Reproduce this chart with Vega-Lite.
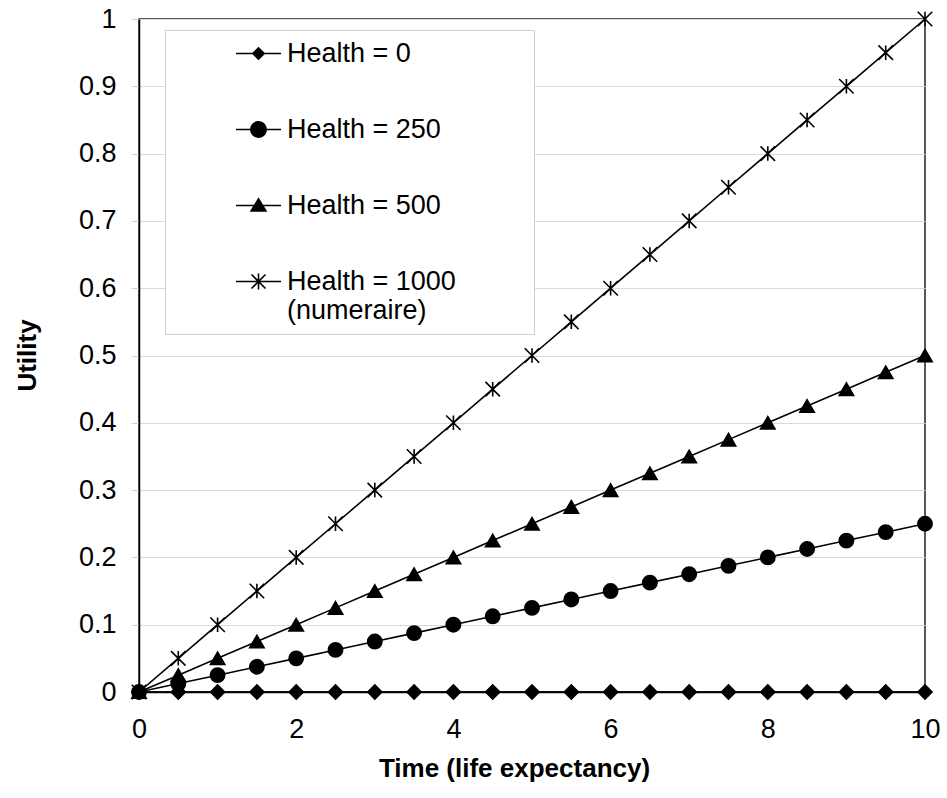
{
  "$schema": "https://vega.github.io/schema/vega-lite/v6.json",
  "width": 786,
  "height": 673,
  "autosize": "none",
  "padding": {"left": 139, "top": 19, "right": 22, "bottom": 106},
  "background": "white",
  "config": {
    "font": "Liberation Sans",
    "view": {"stroke": "#222", "strokeWidth": 1.5}
  },
  "data": {
    "values": [
      {"t": 0, "u": 0, "s": "Health = 0"}, {"t": 0.5, "u": 0, "s": "Health = 0"}, {"t": 1, "u": 0, "s": "Health = 0"}, {"t": 1.5, "u": 0, "s": "Health = 0"}, {"t": 2, "u": 0, "s": "Health = 0"}, {"t": 2.5, "u": 0, "s": "Health = 0"}, {"t": 3, "u": 0, "s": "Health = 0"}, {"t": 3.5, "u": 0, "s": "Health = 0"}, {"t": 4, "u": 0, "s": "Health = 0"}, {"t": 4.5, "u": 0, "s": "Health = 0"}, {"t": 5, "u": 0, "s": "Health = 0"}, {"t": 5.5, "u": 0, "s": "Health = 0"}, {"t": 6, "u": 0, "s": "Health = 0"}, {"t": 6.5, "u": 0, "s": "Health = 0"}, {"t": 7, "u": 0, "s": "Health = 0"}, {"t": 7.5, "u": 0, "s": "Health = 0"}, {"t": 8, "u": 0, "s": "Health = 0"}, {"t": 8.5, "u": 0, "s": "Health = 0"}, {"t": 9, "u": 0, "s": "Health = 0"}, {"t": 9.5, "u": 0, "s": "Health = 0"}, {"t": 10, "u": 0, "s": "Health = 0"},
      {"t": 0, "u": 0, "s": "Health = 250"}, {"t": 0.5, "u": 0.0125, "s": "Health = 250"}, {"t": 1, "u": 0.025, "s": "Health = 250"}, {"t": 1.5, "u": 0.0375, "s": "Health = 250"}, {"t": 2, "u": 0.05, "s": "Health = 250"}, {"t": 2.5, "u": 0.0625, "s": "Health = 250"}, {"t": 3, "u": 0.075, "s": "Health = 250"}, {"t": 3.5, "u": 0.0875, "s": "Health = 250"}, {"t": 4, "u": 0.1, "s": "Health = 250"}, {"t": 4.5, "u": 0.1125, "s": "Health = 250"}, {"t": 5, "u": 0.125, "s": "Health = 250"}, {"t": 5.5, "u": 0.1375, "s": "Health = 250"}, {"t": 6, "u": 0.15, "s": "Health = 250"}, {"t": 6.5, "u": 0.1625, "s": "Health = 250"}, {"t": 7, "u": 0.175, "s": "Health = 250"}, {"t": 7.5, "u": 0.1875, "s": "Health = 250"}, {"t": 8, "u": 0.2, "s": "Health = 250"}, {"t": 8.5, "u": 0.2125, "s": "Health = 250"}, {"t": 9, "u": 0.225, "s": "Health = 250"}, {"t": 9.5, "u": 0.2375, "s": "Health = 250"}, {"t": 10, "u": 0.25, "s": "Health = 250"},
      {"t": 0, "u": 0, "s": "Health = 500"}, {"t": 0.5, "u": 0.025, "s": "Health = 500"}, {"t": 1, "u": 0.05, "s": "Health = 500"}, {"t": 1.5, "u": 0.075, "s": "Health = 500"}, {"t": 2, "u": 0.1, "s": "Health = 500"}, {"t": 2.5, "u": 0.125, "s": "Health = 500"}, {"t": 3, "u": 0.15, "s": "Health = 500"}, {"t": 3.5, "u": 0.175, "s": "Health = 500"}, {"t": 4, "u": 0.2, "s": "Health = 500"}, {"t": 4.5, "u": 0.225, "s": "Health = 500"}, {"t": 5, "u": 0.25, "s": "Health = 500"}, {"t": 5.5, "u": 0.275, "s": "Health = 500"}, {"t": 6, "u": 0.3, "s": "Health = 500"}, {"t": 6.5, "u": 0.325, "s": "Health = 500"}, {"t": 7, "u": 0.35, "s": "Health = 500"}, {"t": 7.5, "u": 0.375, "s": "Health = 500"}, {"t": 8, "u": 0.4, "s": "Health = 500"}, {"t": 8.5, "u": 0.425, "s": "Health = 500"}, {"t": 9, "u": 0.45, "s": "Health = 500"}, {"t": 9.5, "u": 0.475, "s": "Health = 500"}, {"t": 10, "u": 0.5, "s": "Health = 500"},
      {"t": 0, "u": 0, "s": "Health = 1000"}, {"t": 0.5, "u": 0.05, "s": "Health = 1000"}, {"t": 1, "u": 0.1, "s": "Health = 1000"}, {"t": 1.5, "u": 0.15, "s": "Health = 1000"}, {"t": 2, "u": 0.2, "s": "Health = 1000"}, {"t": 2.5, "u": 0.25, "s": "Health = 1000"}, {"t": 3, "u": 0.3, "s": "Health = 1000"}, {"t": 3.5, "u": 0.35, "s": "Health = 1000"}, {"t": 4, "u": 0.4, "s": "Health = 1000"}, {"t": 4.5, "u": 0.45, "s": "Health = 1000"}, {"t": 5, "u": 0.5, "s": "Health = 1000"}, {"t": 5.5, "u": 0.55, "s": "Health = 1000"}, {"t": 6, "u": 0.6, "s": "Health = 1000"}, {"t": 6.5, "u": 0.65, "s": "Health = 1000"}, {"t": 7, "u": 0.7, "s": "Health = 1000"}, {"t": 7.5, "u": 0.75, "s": "Health = 1000"}, {"t": 8, "u": 0.8, "s": "Health = 1000"}, {"t": 8.5, "u": 0.85, "s": "Health = 1000"}, {"t": 9, "u": 0.9, "s": "Health = 1000"}, {"t": 9.5, "u": 0.95, "s": "Health = 1000"}, {"t": 10, "u": 1, "s": "Health = 1000"}
    ]
  },
  "encoding": {
    "x": {
      "field": "t", "type": "quantitative",
      "scale": {"domain": [0, 10], "nice": false, "zero": false},
      "axis": {
        "values": [0, 2, 4, 6, 8, 10], "grid": false, "ticks": false,
        "domainColor": "#000", "domainWidth": 1.5,
        "labelFontSize": 27, "labelColor": "#000", "labelPadding": 24, "labelFlush": false,
        "title": "Time (life expectancy)", "titleFontSize": 26, "titleFontWeight": "bold", "titleColor": "#000",
        "titleX": 375, "titleY": 84, "titleBaseline": "alphabetic", "titleAnchor": "middle"
      }
    },
    "y": {
      "field": "u", "type": "quantitative",
      "scale": {"domain": [0, 1], "nice": false},
      "axis": {
        "values": [0, 0.1, 0.2, 0.3, 0.4, 0.5, 0.6, 0.7, 0.8, 0.9, 1],
        "labelExpr": "datum.value == 0 ? '0' : datum.value == 1 ? '1' : format(datum.value, '.1f')",
        "grid": true, "gridColor": "#d9d9d9", "gridWidth": 1,
        "tickColor": "#d0d0d0", "tickSize": 8, "tickWidth": 1,
        "domainColor": "#000", "domainWidth": 1.5,
        "labelFontSize": 27, "labelColor": "#000", "labelPadding": 15, "labelFlush": false,
        "title": "Utility", "titleFontSize": 26, "titleFontWeight": "bold", "titleColor": "#000",
        "titleX": -112, "titleY": 336, "titleBaseline": "middle", "titleAngle": -90
      }
    }
  },
  "layer": [
    {
      "mark": {"type": "line", "color": "#000", "strokeWidth": 1.6},
      "encoding": {"detail": {"field": "s"}}
    },
    {
      "mark": {"type": "point", "filled": true, "color": "#000", "stroke": "#000", "strokeWidth": 1.6, "opacity": 1},
      "encoding": {
        "shape": {
          "field": "s", "type": "nominal",
          "scale": {
            "domain": ["Health = 0", "Health = 250", "Health = 500", "Health = 1000"],
            "range": ["diamond", "circle", "triangle-up", "M-1,-1L1,1M-1,1L1,-1M0,-1L0,1"]
          },
          "legend": null
        },
        "size": {
          "field": "s", "type": "nominal",
          "scale": {
            "domain": ["Health = 0", "Health = 250", "Health = 500", "Health = 1000"],
            "range": [200, 210, 220, 324]
          },
          "legend": null
        }
      }
    },
    {
      "mark": {"type": "point", "filled": true, "color": "#000", "opacity": 0},
      "encoding": {
        "shape": {
          "field": "s", "type": "nominal",
          "scale": {
            "domain": ["Health = 0", "Health = 250", "Health = 500", "Health = 1000"],
            "range": [
              "M-2.25,-0.08L2.25,-0.08L2.25,0.08L-2.25,0.08ZM0,-0.68L0.68,0L0,0.68L-0.68,0Z",
              "M-2.25,-0.08L2.25,-0.08L2.25,0.08L-2.25,0.08ZM0.84,0A0.84,0.84 0 1 1 -0.84,0A0.84,0.84 0 1 1 0.84,0Z",
              "M-2.25,-0.08L2.25,-0.08L2.25,0.08L-2.25,0.08ZM0,-0.82L0.88,0.62L-0.88,0.62Z",
              "M-2.25,-0.08L2.25,-0.08L2.25,0.08L-2.25,0.08ZM-0.643,-0.757L0.757,0.643L0.643,0.757L-0.757,-0.643ZM-0.757,0.643L0.643,-0.757L0.757,-0.643L-0.643,0.757ZM-0.08,-0.8L0.08,-0.8L0.08,0.8L-0.08,0.8Z"
            ]
          },
          "legend": {
            "title": null,
            "orient": "none",
            "legendX": 26,
            "legendY": 11,
            "padding": 10,
            "fillColor": "white",
            "strokeColor": "#cfcfcf",
            "symbolSize": 400,
            "symbolOffset": 70,
            "symbolFillColor": "#000",
            "symbolOpacity": 1,
            "labelFontSize": 27,
            "labelColor": "#000",
            "labelOffset": 15,
            "labelLimit": 400,
            "labelBaseline": "middle",
            "rowPadding": 48,
            "labelExpr": "datum.label == 'Health = 1000' ? ['Health = 1000\u00a0\u00a0\u00a0\u00a0\u00a0\u00a0\u00a0\u00a0\u00a0\u200b', '(numeraire)'] : datum.label"
          }
        }
      }
    }
  ],
  "resolve": {"scale": {"shape": "independent", "size": "independent"}}
}
